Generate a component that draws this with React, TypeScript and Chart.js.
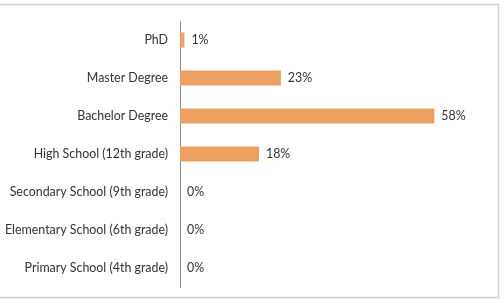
import React, { useEffect, useRef } from "react";
import { Chart, registerables } from "chart.js";

Chart.register(...registerables);

const categories = [
  "PhD",
  "Master Degree",
  "Bachelor Degree",
  "High School (12th grade)",
  "Secondary School (9th grade)",
  "Elementary School (6th grade)",
  "Primary School (4th grade)",
];
const values = [1, 23, 58, 18, 0, 0, 0];
const xMax = 70;

const FONT = "Lato, 'Open Sans', sans-serif";

const framePlugin = {
  id: "frame",
  beforeDraw(chart: any) {
    const ctx = chart.ctx;
    ctx.save();
    ctx.fillStyle = "#ffffff";
    ctx.fillRect(0, 0, chart.width, chart.height);
    ctx.strokeStyle = "#D4D4D4";
    ctx.lineWidth = 1.5;
    ctx.beginPath();
    ctx.moveTo(0, 4.5);
    ctx.lineTo(498.5, 4.5);
    ctx.lineTo(498.5, 297.5);
    ctx.lineTo(0, 297.5);
    ctx.stroke();
    ctx.restore();
  },
};

const labelPlugin = {
  id: "valueLabels",
  afterDatasetsDraw(chart: any) {
    const ctx = chart.ctx;
    const meta = chart.getDatasetMeta(0);
    ctx.save();
    ctx.font = `12.4px ${FONT}`;
    ctx.fillStyle = "#333333";
    ctx.textAlign = "left";
    ctx.textBaseline = "middle";
    meta.data.forEach((bar: any, i: number) => {
      ctx.fillText(`${values[i]}%`, bar.x + 7, bar.y);
    });
    ctx.restore();
  },
};

export default function App() {
  const ref = useRef<HTMLCanvasElement>(null);
  useEffect(() => {
    if (!ref.current) return;
    const chart = new Chart(ref.current, {
      type: "bar",
      data: {
        labels: categories,
        datasets: [
          {
            data: values,
            backgroundColor: "#EBA062",
            borderWidth: 0,
            barPercentage: 0.4,
            categoryPercentage: 1,
          },
        ],
      },
      options: {
        indexAxis: "y",
        animation: false,
        responsive: false,
        maintainAspectRatio: false,
        layout: { padding: { top: 21, bottom: 12, left: 0, right: 17 } },
        plugins: { legend: { display: false }, tooltip: { enabled: false } },
        scales: {
          x: { display: false, min: 0, max: xMax },
          y: {
            grid: { display: false, drawTicks: false },
            border: { display: true, color: "#8C8C8C", width: 1 },
            ticks: {
              padding: 12,
              color: "#333333",
              font: { family: FONT, size: 12.4 },
            },
            afterFit(scale: any) {
              scale.width = 180;
              scale.paddingTop = 0;
              scale.paddingBottom = 0;
            },
          },
        },
      },
      plugins: [framePlugin, labelPlugin],
    });
    return () => chart.destroy();
  }, []);
  return (
    <div style={{ position: "fixed", left: 0, top: 0, width: 504, height: 299 }}>
      <canvas ref={ref} width={504} height={299} style={{ width: 504, height: 299 }} />
    </div>
  );
}
